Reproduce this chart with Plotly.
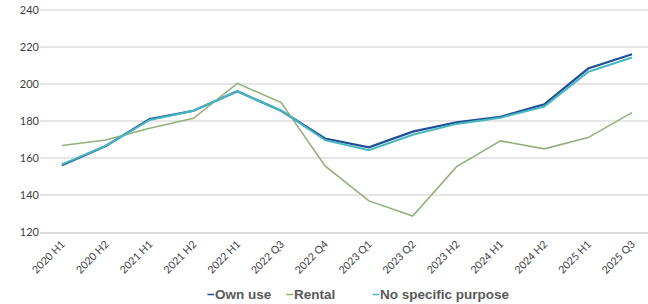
import plotly.graph_objects as go

categories = ["2020 H1", "2020 H2", "2021 H1", "2021 H2", "2022 H1", "2022 Q3", "2022 Q4",
              "2023 Q1", "2023 Q2", "2023 H2", "2024 H1", "2024 H2", "2025 H1", "2025 Q3"]
own_use = [156, 166.5, 181, 185.5, 196, 185.5, 170.5, 165.7, 174.2, 179.3, 182.2, 189, 208.3, 216]
rental = [166.7, 169.7, 176, 181.4, 200.3, 189.9, 155.7, 136.8, 128.6, 155.3, 169.2, 164.9, 171, 184.5]
no_specific = [156.5, 166.5, 180.5, 185.5, 196, 185.5, 169.6, 164.2, 172.5, 178.4, 181.7, 187.8, 206.5, 214.3]
y_ticks = [120, 140, 160, 180, 200, 220, 240]

series = [
    ("Own use", own_use, "#1f4e96", 2.2),
    ("Rental", rental, "#93b07c", 1.6),
    ("No specific purpose", no_specific, "#45b7c0", 2.0),
]

fig = go.Figure()
for name, vals, color, w in series:
    fig.add_trace(go.Scatter(x=categories, y=vals, name=name, mode="lines",
                             line=dict(color=color, width=w), showlegend=False))

# legend as text annotations
legend_x = [205, 284, 370]
for (name, vals, color, w), lx in zip(series, legend_x):
    fig.add_annotation(
        text=f"<b><span style='color:{color}'>−</span>{name}</b>",
        xref="paper", yref="paper", x=(lx - 40) / 608, y=-0.279,
        xanchor="left", yanchor="middle", showarrow=False,
        font=dict(family="Liberation Sans", size=13.5, color="#595959"),
    )

fig.update_layout(
    width=648, height=304,
    margin=dict(l=40, r=0, t=8, b=72),
    paper_bgcolor="white", plot_bgcolor="white",
    font=dict(family="Lato, Liberation Sans", size=11, color="#404040"),
)
fig.update_xaxes(
    type="category", range=[-0.5, 13.365], tickangle=-45,
    showgrid=False, showline=True, linecolor="#d9d9d9", linewidth=2,
    ticks="", tickfont=dict(size=10.5, color="#404040"),
)
fig.update_yaxes(
    range=[120, 241], tickvals=y_ticks, showgrid=True, gridcolor="#e6e6e6",
    gridwidth=1.5, zeroline=False, showline=False, ticks="",
    tickfont=dict(size=11, color="#404040"),
)
fig.write_html("out.html", config={"displayModeBar": False},
               post_script="document.body.style.margin='0';document.body.style.overflow='hidden';")
